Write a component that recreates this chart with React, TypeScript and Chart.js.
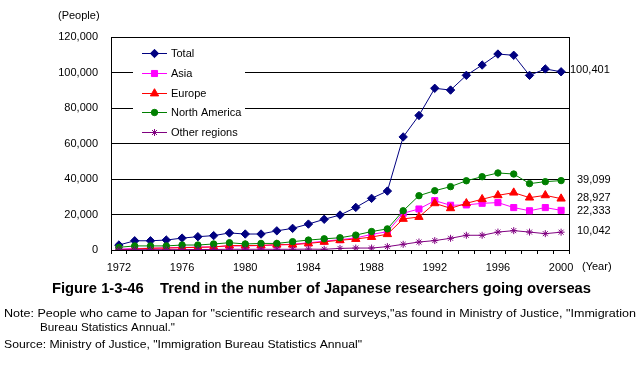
import React, { useEffect, useRef } from "react";
import { Chart, registerables } from "chart.js";
import { drawPoint } from "chart.js/helpers";

Chart.register(...registerables);

const years = [
  "1972", "1973", "1974", "1975", "1976", "1977", "1978", "1979", "1980", "1981",
  "1982", "1983", "1984", "1985", "1986", "1987", "1988", "1989", "1990", "1991",
  "1992", "1993", "1994", "1995", "1996", "1997", "1998", "1999", "2000",
];

const total = [
  2800, 5200, 5200, 5600, 6700, 7500, 8100, 9600, 9000, 9000,
  10800, 12200, 14600, 17300, 19700, 24000, 29100, 33200, 63700, 75800,
  91100, 90100, 98400, 104200, 110400, 109700, 98400, 102000, 100401,
];
const asia = [
  500, 800, 1000, 1200, 1400, 1600, 1800, 2300, 2300, 2500,
  2800, 3300, 4000, 5000, 5800, 6800, 8800, 10300, 20700, 23100,
  27800, 25200, 25400, 26300, 26700, 23900, 22100, 23900, 22333,
];
const europe = [
  200, 500, 1000, 1100, 1300, 1500, 1700, 2500, 2500, 2600,
  3000, 3000, 3700, 4600, 5500, 6200, 7300, 8900, 17500, 18600,
  26300, 23500, 26300, 28600, 30800, 32300, 29500, 30800, 28927,
];
const northAmerica = [
  1500, 2300, 2300, 2300, 2800, 2800, 3400, 4100, 3400, 3700,
  3700, 4700, 5600, 6300, 6900, 8400, 10400, 11900, 22100, 30600,
  33400, 35700, 39000, 41300, 43400, 42800, 37400, 38500, 39099,
];
const otherRegions = [
  100, 200, 200, 200, 200, 300, 300, 400, 400, 400,
  400, 400, 500, 400, 900, 1100, 1100, 1900, 3200, 4500,
  5300, 6600, 8300, 8300, 10100, 10900, 10100, 9200, 10042,
];

const seriesNames = ["Total", "Asia", "Europe", "North America", "Other regions"];
const seriesColors = ["#000080", "#FF00FF", "#FF0000", "#008000", "#800080"];
const seriesMarkers = ["rectRot", "rect", "triangle", "circle", "star"];
const seriesRadius = [4.2, 4.3, 4.8, 3.2, 3.5];
const endLabels = ["100,401", "22,333", "28,927", "39,099", "10,042"];

const yTicksMax = 120000;
const yTicksStep = 20000;

const FONT = "'Liberation Sans', Arial, sans-serif";

function fitText(ctx: CanvasRenderingContext2D, text: string, x: number, y: number, width: number) {
  const w = ctx.measureText(text).width;
  ctx.save();
  ctx.translate(x, y);
  ctx.scale(width / w, 1);
  ctx.fillText(text, 0, 0);
  ctx.restore();
}

const overlayPlugin = {
  id: "overlay",
  afterDraw(chart: any) {
    const ctx: CanvasRenderingContext2D = chart.ctx;
    const area = chart.chartArea;
    const ys = chart.scales.y;
    ctx.save();
    // right border
    ctx.strokeStyle = "#000";
    ctx.lineWidth = 1;
    ctx.beginPath();
    const rx = Math.round(area.right) + 0.5;
    ctx.moveTo(rx, Math.round(area.top));
    ctx.lineTo(rx, Math.round(area.bottom) + 1);
    ctx.stroke();

    // legend
    ctx.fillStyle = "#fff";
    ctx.fillRect(133, 40, 112, 100);
    const rows = [53, 73, 93, 112, 132];
    ctx.font = `11px ${FONT}`;
    ctx.textBaseline = "middle";
    ctx.textAlign = "left";
    for (let i = 0; i < 5; i++) {
      const yy = rows[i] + 0.5;
      ctx.strokeStyle = seriesColors[i];
      ctx.lineWidth = 1;
      ctx.beginPath();
      ctx.moveTo(142, yy);
      ctx.lineTo(167, yy);
      ctx.stroke();
      ctx.fillStyle = seriesColors[i];
      drawPoint(ctx, { pointStyle: seriesMarkers[i], radius: seriesRadius[i], borderWidth: 1, rotation: 0 } as any, 154.5, yy);
      ctx.fillStyle = "#000";
      ctx.fillText(seriesNames[i], 171, rows[i] + 1);
    }

    // end labels
    const lastVals = [total, asia, europe, northAmerica, otherRegions].map((a) => a[a.length - 1]);
    const offsets = [-1.5, 0.5, -0.5, -0.5, -1.5];
    ctx.fillStyle = "#000";
    ctx.font = `11px ${FONT}`;
    for (let i = 0; i < 5; i++) {
      const x = i === 0 ? area.right + 1 : area.right + 8;
      ctx.fillText(endLabels[i], x, ys.getPixelForValue(lastVals[i]) + offsets[i]);
    }

    // axis units
    ctx.fillText("(People)", 58, 16);
    ctx.fillText("(Year)", 582, 267);

    // title
    ctx.font = `bold 14px ${FONT}`;
    fitText(ctx, "Figure 1-3-46    Trend in the number of Japanese researchers going overseas", 52, 289, 539);

    // notes
    ctx.font = `11px ${FONT}`;
    fitText(ctx, "Note: People who came to Japan for \"scientific research and surveys,\"as found in Ministry of Justice, \"Immigration", 4, 314, 632);
    fitText(ctx, "Bureau Statistics Annual.\"", 40, 328, 135);
    fitText(ctx, "Source: Ministry of Justice, \"Immigration Bureau Statistics Annual\"", 4, 345, 358);
    ctx.restore();
  },
};

export default function App() {
  const ref = useRef<HTMLCanvasElement | null>(null);
  useEffect(() => {
    if (!ref.current) return;
    const data = [total, asia, europe, northAmerica, otherRegions];
    const chart = new Chart(ref.current, {
      type: "line",
      data: {
        labels: years,
        datasets: data.map((d, i) => ({
          label: seriesNames[i],
          data: d,
          borderColor: seriesColors[i],
          backgroundColor: seriesColors[i],
          pointBackgroundColor: seriesColors[i],
          pointBorderColor: seriesColors[i],
          pointStyle: seriesMarkers[i] as any,
          pointRadius: seriesRadius[i],
          pointBorderWidth: 1,
          borderWidth: 1,
          tension: 0,
          fill: false,
          order: 4 - i,
        })),
      },
      options: {
        animation: false,
        responsive: false,
        events: [],
        layout: { padding: { left: 0, top: 37, right: 73, bottom: 0 } },
        plugins: { legend: { display: false }, tooltip: { enabled: false }, title: { display: false } },
        scales: {
          x: {
            offset: true,
            afterFit: (s: any) => { s.height = 115; },
            grid: { offset: true, drawOnChartArea: false, drawTicks: true, tickLength: 4, color: "#000", lineWidth: 1 },
            border: { display: true, color: "#000", width: 1 },
            ticks: {
              autoSkip: false,
              maxRotation: 0,
              padding: 7,
              color: "#000",
              font: { family: FONT, size: 11 },
              callback: (_v: any, i: number) => (i % 4 === 0 ? years[i] : ""),
            },
          },
          y: {
            min: 0,
            max: yTicksMax,
            afterFit: (s: any) => { s.width = 111; },
            grid: { drawTicks: false, color: "#000", lineWidth: 1 },
            border: { display: true, color: "#000", width: 1 },
            ticks: {
              stepSize: yTicksStep,
              padding: 13,
              color: "#000",
              font: { family: FONT, size: 11 },
              callback: (v: any) => Number(v).toLocaleString("en-US"),
            },
          },
        },
      },
      plugins: [overlayPlugin],
    });
    return () => chart.destroy();
  }, []);
  return (
    <div style={{ position: "absolute", left: 0, top: 0, width: 642, height: 365, background: "#fff" }}>
      <canvas ref={ref} width={642} height={365} style={{ width: 642, height: 365 }} />
    </div>
  );
}
